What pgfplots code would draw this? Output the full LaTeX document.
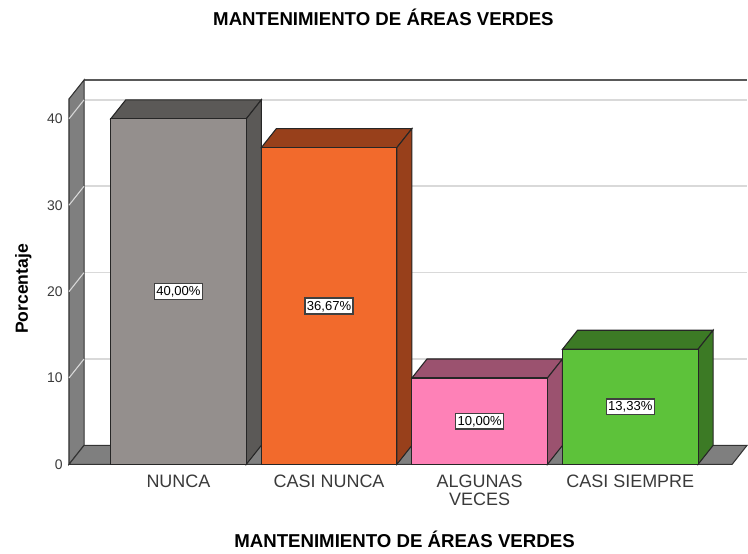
\documentclass[border=0pt]{standalone}
\usepackage{pgfplots}
\pgfplotsset{compat=1.18}
\usepackage{fontspec}
\setmainfont{Liberation Sans}
\definecolor{gfront}{HTML}{948F8D}
\definecolor{gside}{HTML}{5B5957}
\definecolor{ofront}{HTML}{F26A2C}
\definecolor{oside}{HTML}{98401B}
\definecolor{pfront}{HTML}{FE81B7}
\definecolor{pside}{HTML}{9B526F}
\definecolor{vfront}{HTML}{5DC23A}
\definecolor{vside}{HTML}{3C7A25}
\definecolor{wallc}{HTML}{7F7F7F}
\definecolor{gridc}{HTML}{D9D9D9}
\definecolor{txt}{HTML}{3A3A3A}
\begin{document}
\begin{tikzpicture}
\begin{axis}[
  scale only axis, width=561pt, height=415.5pt,
  xmin=-1.185, xmax=3.775, ymin=-10.29, ymax=53.76,
  axis lines=none, clip=false,
]
% bounding frame (invisible)
\path (axis cs:-1.185,-10.29) rectangle (axis cs:3.775,53.76);
% back wall
\addplot[fill=white, draw=none] coordinates {(-0.627,2.2) (3.775,2.2) (3.775,44.5) (-0.627,44.5)} -- cycle;
% gridlines (back wall)
\addplot[color=gridc, line width=1.3pt] coordinates {(-0.627,12.2) (3.775,12.2)};
\addplot[color=gridc, line width=1.3pt] coordinates {(-0.627,22.2) (3.775,22.2)};
\addplot[color=gridc, line width=1.3pt] coordinates {(-0.627,32.2) (3.775,32.2)};
\addplot[color=gridc, line width=1.3pt] coordinates {(-0.627,42.2) (3.775,42.2)};
\addplot[color=black!65, line width=1.5pt] coordinates {(-0.627,44.5) (3.775,44.5)};
% left wall
\addplot[fill=wallc, draw=black!80, line width=0.8pt] coordinates {(-0.727,0) (-0.627,2.2) (-0.627,44.5) (-0.727,42.3)} -- cycle;
\addplot[color=gridc, line width=0.8pt] coordinates {(-0.727,10) (-0.627,12.2)};
\addplot[color=gridc, line width=0.8pt] coordinates {(-0.727,20) (-0.627,22.2)};
\addplot[color=gridc, line width=0.8pt] coordinates {(-0.727,30) (-0.627,32.2)};
\addplot[color=gridc, line width=0.8pt] coordinates {(-0.727,40) (-0.627,42.2)};
% floor
\addplot[fill=wallc, draw=black!80, line width=0.8pt] coordinates {(-0.727,0) (3.676,0) (3.775,2.2) (-0.627,2.2)} -- cycle;

% bar NUNCA 40.00
\addplot[fill=gside, draw=black!85, line width=0.8pt] coordinates {(-0.45,40) (-0.35,42.2) (0.55,42.2) (0.45,40)} -- cycle;
\addplot[fill=gside, draw=black!85, line width=0.8pt] coordinates {(0.45,0) (0.55,2.2) (0.55,42.2) (0.45,40)} -- cycle;
\addplot[fill=gfront, draw=black!85, line width=0.8pt] coordinates {(-0.45,0) (0.45,0) (0.45,40) (-0.45,40)} -- cycle;
% bar CASI NUNCA 36.67
\addplot[fill=oside, draw=black!85, line width=0.8pt] coordinates {(0.55,36.67) (0.65,38.87) (1.55,38.87) (1.45,36.67)} -- cycle;
\addplot[fill=oside, draw=black!85, line width=0.8pt] coordinates {(1.45,0) (1.55,2.2) (1.55,38.87) (1.45,36.67)} -- cycle;
\addplot[fill=ofront, draw=black!85, line width=0.8pt] coordinates {(0.55,0) (1.45,0) (1.45,36.67) (0.55,36.67)} -- cycle;
% bar ALGUNAS VECES 10.00
\addplot[fill=pside, draw=black!85, line width=0.8pt] coordinates {(1.55,10) (1.65,12.2) (2.55,12.2) (2.45,10)} -- cycle;
\addplot[fill=pside, draw=black!85, line width=0.8pt] coordinates {(2.45,0) (2.55,2.2) (2.55,12.2) (2.45,10)} -- cycle;
\addplot[fill=pfront, draw=black!85, line width=0.8pt] coordinates {(1.55,0) (2.45,0) (2.45,10) (1.55,10)} -- cycle;
% bar CASI SIEMPRE 13.33
\addplot[fill=vside, draw=black!85, line width=0.8pt] coordinates {(2.55,13.33) (2.65,15.53) (3.55,15.53) (3.45,13.33)} -- cycle;
\addplot[fill=vside, draw=black!85, line width=0.8pt] coordinates {(3.45,0) (3.55,2.2) (3.55,15.53) (3.45,13.33)} -- cycle;
\addplot[fill=vfront, draw=black!85, line width=0.8pt] coordinates {(2.55,0) (3.45,0) (3.45,13.33) (2.55,13.33)} -- cycle;

% value labels
\tikzset{vl/.style={fill=white, draw=black!75, line width=1pt, inner xsep=1.4pt, inner ysep=1.8pt, text height=7.2pt, text depth=1pt, font=\fontsize{9.8}{10}\selectfont}}
\node[vl] at (axis cs:0,20) {40,00\%};
\node[vl] at (axis cs:1,18.335) {36,67\%};
\node[vl] at (axis cs:2,5) {10,00\%};
\node[vl] at (axis cs:3,6.665) {13,33\%};

% y tick labels
\tikzset{yl/.style={anchor=east, text=txt, font=\fontsize{10.5}{12}\selectfont, inner sep=0pt}}
\node[yl] at (axis cs:-0.767,0) {0};
\node[yl] at (axis cs:-0.767,10) {10};
\node[yl] at (axis cs:-0.767,20) {20};
\node[yl] at (axis cs:-0.767,30) {30};
\node[yl] at (axis cs:-0.767,40) {40};

% category labels
\tikzset{cl/.style={anchor=north, text=txt, align=center, inner sep=0pt, font=\fontsize{13.5}{13.5}\selectfont}}
\node[cl] at (axis cs:0,-1.2) {NUNCA};
\node[cl] at (axis cs:1,-1.2) {CASI NUNCA};
\node[cl] at (axis cs:2,-1.2) {ALGUNAS\\VECES};
\node[cl] at (axis cs:3,-1.2) {CASI SIEMPRE};

% titles
\node[font=\bfseries\fontsize{14}{16}\selectfont] at (axis cs:1.361,51.8) {MANTENIMIENTO DE ÁREAS VERDES};
\node[font=\bfseries\fontsize{14}{16}\selectfont] at (axis cs:1.501,-8.67) {MANTENIMIENTO DE ÁREAS VERDES};
\node[font=\bfseries\fontsize{13.2}{14}\selectfont, rotate=90] at (axis cs:-1.03,20.3) {Porcentaje};
\end{axis}
\end{tikzpicture}
\end{document}
